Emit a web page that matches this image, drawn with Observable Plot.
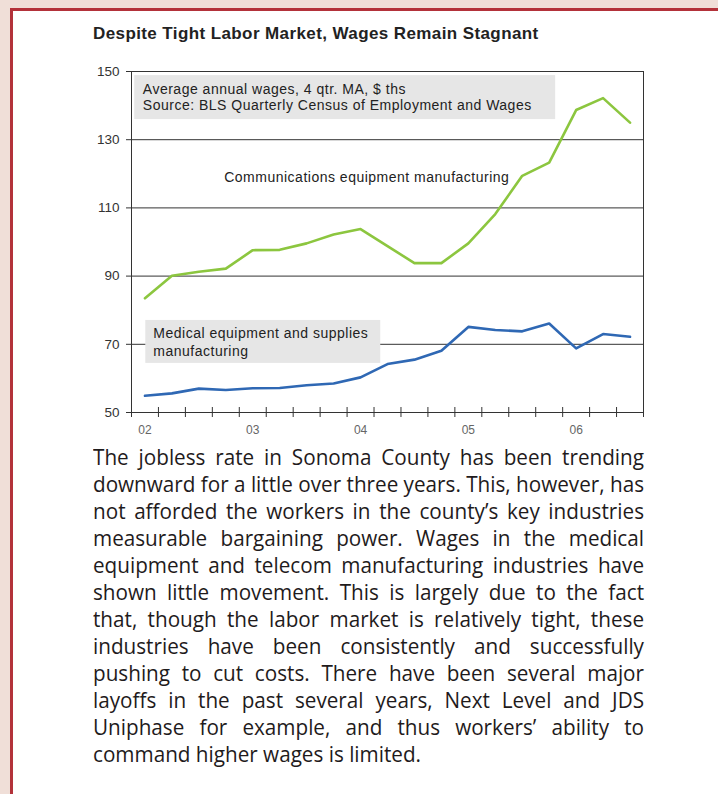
<!DOCTYPE html>
<html>
<head>
<meta charset="utf-8">
<script src="https://cdn.jsdelivr.net/npm/d3@7"></script>
<script src="https://cdn.jsdelivr.net/npm/@observablehq/plot@0.6"></script>
<style>
  html, body { margin: 0; padding: 0; width: 718px; height: 794px; overflow: hidden; background: #f0dfd8; }
  #panel { position: absolute; left: 10px; top: 8px; width: 760px; height: 840px; background: #fff;
           border-top: 3px solid #b3323a; border-left: 3px solid #b3323a; }
  #title { position: absolute; left: 93px; top: 24px; font-family: "Liberation Sans", Arial, sans-serif;
           font-weight: bold; font-size: 17px; letter-spacing: 0.4px; color: #222; white-space: nowrap; }
  #chart { position: absolute; left: 0; top: 50px; }
  #para { position: absolute; left: 93px; top: 444px; font-family: "Open Sans", sans-serif; font-size: 21px;
          line-height: 27px; color: #1f1b1c; transform-origin: 0 0; }
  #para div { white-space: nowrap; }
</style>
</head>
<body>
<div id="panel"></div>
<div id="title">Despite Tight Labor Market, Wages Remain Stagnant</div>
<div id="chart"></div>
<div id="para"></div>
<script>
// ---- data ----
const quarters = ["2002Q1","2002Q2","2002Q3","2002Q4","2003Q1","2003Q2","2003Q3","2003Q4",
  "2004Q1","2004Q2","2004Q3","2004Q4","2005Q1","2005Q2","2005Q3","2005Q4","2006Q1","2006Q2","2006Q3"];
const commWages = [83.5, 90.1, 91.3, 92.2, 97.6, 97.7, 99.6, 102.2, 103.8, 98.8, 93.8, 93.8,
  99.6, 108.2, 119.4, 123.3, 138.7, 142.2, 135.0];
const medWages = [54.9, 55.6, 57.0, 56.6, 57.1, 57.2, 58.0, 58.5, 60.3, 64.2, 65.5, 68.1,
  75.1, 74.2, 73.8, 76.1, 68.8, 73.0, 72.2];
const yearLabels = ["02", "03", "04", "05", "06"];
const yTicks = [50, 70, 90, 110, 130, 150];
const gridValues = [70, 90, 110, 130];
const noteLines = [
  "Average annual wages, 4 qtr. MA, $ ths",
  "Source: BLS Quarterly Census of Employment and Wages"
];
const commLabel = "Communications equipment manufacturing";
const medLabelLines = ["Medical equipment and supplies", "manufacturing"];
const paragraphLines = [
  "The jobless rate in Sonoma County has been trending",
  "downward for a little over three years. This, however, has",
  "not afforded the workers in the county\u2019s key industries",
  "measurable bargaining power. Wages in the medical",
  "equipment and telecom manufacturing industries have",
  "shown little movement. This is largely due to the fact",
  "that, though the labor market is relatively tight, these",
  "industries have been consistently and successfully",
  "pushing to cut costs. There have been several major",
  "layoffs in the past several years, Next Level and JDS",
  "Uniphase for example, and thus workers\u2019 ability to",
  "command higher wages is limited."
];

// ---- layout (annotation placement in data units) ----
const boxes = [
  {x1: 0.12, x2: 15.74, y1: 135.9, y2: 148.8},
  {x1: 0.53, x2: 9.25, y1: 64.4, y2: 77.0}
];
const annotations = [
  {x: 0.42, y: 146.3, text: noteLines[0]},
  {x: 0.42, y: 141.7, text: noteLines[1]},
  {x: 3.44, y: 120.4, text: commLabel},
  {x: 0.81, y: 74.9, text: medLabelLines[0]},
  {x: 0.81, y: 69.4, text: medLabelLines[1]}
];

const commData = quarters.map((q, i) => ({i: i + 0.5, v: commWages[i]}));
const medData = quarters.map((q, i) => ({i: i + 0.5, v: medWages[i]}));
const yearData = yearLabels.map(l => ({x: quarters.indexOf("20" + l + "Q1") + 0.5, label: l}));

const chart = Plot.plot({
  width: 718,
  height: 400,
  marginLeft: 131,
  marginRight: 75,
  marginTop: 21,
  marginBottom: 38,
  x: {domain: [0, quarters.length], axis: null},
  y: {domain: [50, 150], axis: null},
  style: {fontFamily: "'Liberation Sans', Arial, sans-serif", background: "transparent", overflow: "visible"},
  marks: [
    Plot.ruleY(gridValues, {stroke: "#333", strokeWidth: 1, strokeOpacity: 1}),
    Plot.rect(boxes, {x1: "x1", x2: "x2", y1: "y1", y2: "y2", fill: "#e6e6e6"}),
    Plot.frame({stroke: "#333", strokeWidth: 1}),
    Plot.axisY({ticks: yTicks, tickSize: 5, strokeOpacity: 1, color: "#333", tickFormat: () => ""}),
    Plot.text(yTicks, {y: d => d, text: d => String(d), frameAnchor: "left", textAnchor: "end", dx: -12,
      fontSize: 13.5, fill: "#333"}),
    Plot.axisX({ticks: d3.range(quarters.length + 1), tickSize: 10, dy: -5, strokeOpacity: 1,
      color: "#333", tickFormat: () => ""}),
    Plot.text(yearData, {x: "x", text: "label", frameAnchor: "bottom", dy: 21, fontSize: 12, fill: "#666"}),
    Plot.line(commData, {x: "i", y: "v", stroke: "#8cc63f", strokeWidth: 2.6}),
    Plot.line(medData, {x: "i", y: "v", stroke: "#2f68b4", strokeWidth: 2.6}),
    Plot.text(annotations, {x: "x", y: "y", text: "text", textAnchor: "start", lineAnchor: "top",
      fontSize: 14, fill: "#222"})
  ]
});
document.getElementById("chart").appendChild(chart);
// slightly looser tracking for the annotation texts, like the reference rendering
const annoTexts = new Set(annotations.map(a => a.text));
d3.select(chart).selectAll("text").filter(function() { return annoTexts.has(this.textContent); })
  .style("letter-spacing", "0.5px");

// ---- justified paragraph ----
const para = document.getElementById("para");
const targetW = 551;
const spans = paragraphLines.map(t => {
  const d = document.createElement("div");
  const s = document.createElement("span");
  s.textContent = t;
  d.appendChild(s);
  para.appendChild(d);
  return s;
});
const widths = spans.map(s => s.getBoundingClientRect().width);
const maxW = Math.max(...widths);
const sx = Math.min(1, targetW / maxW);
para.style.transform = `scaleX(${sx})`;
spans.forEach((s, k) => {
  if (k === spans.length - 1) return;
  const gaps = (paragraphLines[k].match(/ /g) || []).length;
  const extra = targetW / sx - widths[k];
  if (gaps > 0) s.style.wordSpacing = (extra / gaps) + "px";
});
</script>
</body>
</html>
